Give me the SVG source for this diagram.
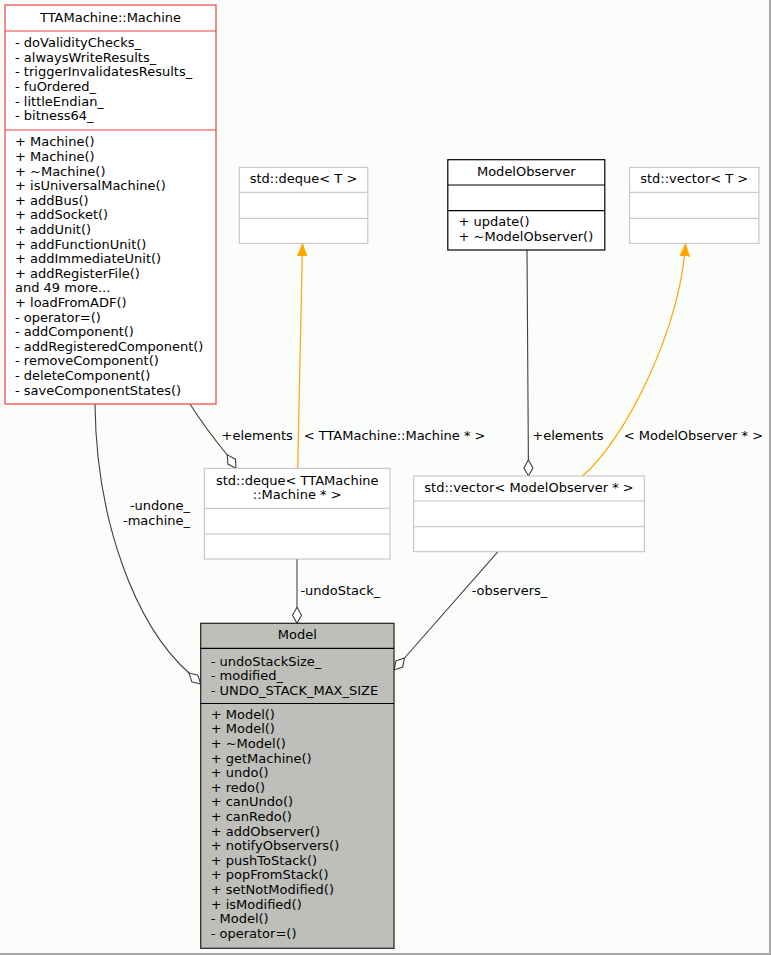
<svg xmlns="http://www.w3.org/2000/svg" width="771" height="955" viewBox="0 0 771 955">
<style>
text{font-family:"DejaVu Sans","Noto Sans",sans-serif;font-size:13px;fill:#000}
.c{text-anchor:middle}
.e{text-anchor:end}
.box{fill:#ffffff;stroke:#bfbfbf;stroke-width:1}
.red{fill:#ffffff;stroke:#f03c3c;stroke-width:1.2}
.blk{fill:#ffffff;stroke:#000000;stroke-width:1.2}
.mdl{fill:#bebfbb;stroke:#202020;stroke-width:1.2}
.dg{stroke:#bfbfbf;stroke-width:1}
.dr{stroke:#f03c3c;stroke-width:1.2}
.dk{stroke:#000000;stroke-width:1.2}
.edge{fill:none;stroke:#404040;stroke-width:1.1}
.inh{fill:none;stroke:#ffa500;stroke-width:1.2}
</style>
<defs>
<marker id="dia" markerUnits="userSpaceOnUse" viewBox="-1 -1 18 12" refX="16" refY="5" markerWidth="18" markerHeight="12" orient="auto">
<path d="M0,5 L8,0.5 L16,5 L8,9.5 Z" fill="#ffffff" stroke="#404040" stroke-width="1.1"/>
</marker>
<marker id="arr" markerUnits="userSpaceOnUse" viewBox="0 0 13 10" refX="13" refY="5" markerWidth="13" markerHeight="10" orient="auto">
<path d="M0,0 L13,5 L0,10 Z" fill="#ffa500" stroke="#ffa500" stroke-width="0.5"/>
</marker>
</defs>
<rect x="0" y="0" width="771" height="955" fill="#fbfdfb"/>
<line x1="770" y1="0" x2="770" y2="955" stroke="#a8a8a8" stroke-width="2"/>
<line x1="0" y1="954" x2="771" y2="954" stroke="#a8a8a8" stroke-width="2"/>

<g id="edges">
<path class="edge" d="M95,404 C96,520 135,625 189,673 L200.7,684" marker-end="url(#dia)"/>
<path class="edge" d="M190,404 C200,420 215,440 228,456 L236,468.3" marker-end="url(#dia)"/>
<path class="inh" d="M297.7,468.3 L302.5,243.3" marker-end="url(#arr)"/>
<path class="edge" d="M527,250 L528.5,476" marker-end="url(#dia)"/>
<path class="inh" d="M582.5,476 C625,440 680,330 685.5,243.3" marker-end="url(#arr)"/>
<path class="edge" d="M297,559 L297,623.3" marker-end="url(#dia)"/>
<path class="edge" d="M498,551.7 L394,670" marker-end="url(#dia)"/>
<text x="221.5" y="439.5">+elements</text>
<text x="303.7" y="439.5">&lt; TTAMachine::Machine * &gt;</text>
<text x="532.3" y="439.5">+elements</text>
<text x="623.7" y="439.5">&lt; ModelObserver * &gt;</text>
<text class="e" x="190" y="510.2">-undone_</text>
<text class="e" x="190" y="525.2">-machine_</text>
<text x="300.4" y="594.5">-undoStack_</text>
<text x="471.7" y="594.5">-observers_</text>
</g>

<g id="machine">
<rect class="red" x="5" y="5" width="211" height="399"/>
<line class="dr" x1="5" y1="31" x2="216" y2="31"/>
<line class="dr" x1="5" y1="130" x2="216" y2="130"/>
<text class="c" x="110.5" y="21.5">TTAMachine::Machine</text>
<text x="15" y="47.2">- doValidityChecks_</text>
<text x="15" y="61.8">- alwaysWriteResults_</text>
<text x="15" y="76.4">- triggerInvalidatesResults_</text>
<text x="15" y="91">- fuOrdered_</text>
<text x="15" y="105.6">- littleEndian_</text>
<text x="15" y="120.2">- bitness64_</text>
<text x="15" y="146.4">+ Machine()</text>
<text x="15" y="161">+ Machine()</text>
<text x="15" y="175.6">+ ~Machine()</text>
<text x="15" y="190.2">+ isUniversalMachine()</text>
<text x="15" y="204.8">+ addBus()</text>
<text x="15" y="219.4">+ addSocket()</text>
<text x="15" y="234">+ addUnit()</text>
<text x="15" y="248.6">+ addFunctionUnit()</text>
<text x="15" y="263.2">+ addImmediateUnit()</text>
<text x="15" y="277.8">+ addRegisterFile()</text>
<text x="15" y="292.4">and 49 more...</text>
<text x="15" y="307">+ loadFromADF()</text>
<text x="15" y="321.6">- operator=()</text>
<text x="15" y="336.2">- addComponent()</text>
<text x="15" y="350.8">- addRegisteredComponent()</text>
<text x="15" y="365.4">- removeComponent()</text>
<text x="15" y="380">- deleteComponent()</text>
<text x="15" y="394.6">- saveComponentStates()</text>
</g>

<g id="deque_t">
<rect class="box" x="239.3" y="167.3" width="128.5" height="76"/>
<line class="dg" x1="239.3" y1="192.3" x2="367.8" y2="192.3"/>
<line class="dg" x1="239.3" y1="218.3" x2="367.8" y2="218.3"/>
<text class="c" x="303.5" y="183">std::deque&lt; T &gt;</text>
</g>

<g id="modelobserver">
<rect class="blk" x="447.8" y="159.7" width="157" height="90.3"/>
<line class="dk" x1="447.8" y1="185" x2="604.8" y2="185"/>
<line class="dk" x1="447.8" y1="210.7" x2="604.8" y2="210.7"/>
<text class="c" x="526.3" y="176.2">ModelObserver</text>
<text x="458.5" y="226.2">+ update()</text>
<text x="458.5" y="240.8">+ ~ModelObserver()</text>
</g>

<g id="vector_t">
<rect class="box" x="629.6" y="167.3" width="129.3" height="76"/>
<line class="dg" x1="629.6" y1="192.3" x2="758.9" y2="192.3"/>
<line class="dg" x1="629.6" y1="218.3" x2="758.9" y2="218.3"/>
<text class="c" x="694.2" y="183">std::vector&lt; T &gt;</text>
</g>

<g id="deque_machine">
<rect class="box" x="204.3" y="468.3" width="185.7" height="90.7"/>
<line class="dg" x1="204.3" y1="508.3" x2="390" y2="508.3"/>
<line class="dg" x1="204.3" y1="534" x2="390" y2="534"/>
<text class="c" x="297.2" y="485.2">std::deque&lt; TTAMachine</text>
<text class="c" x="297.2" y="499.2">::Machine * &gt;</text>
</g>

<g id="vector_observer">
<rect class="box" x="413.7" y="476" width="230.6" height="75.7"/>
<line class="dg" x1="413.7" y1="501" x2="644.3" y2="501"/>
<line class="dg" x1="413.7" y1="526.7" x2="644.3" y2="526.7"/>
<text class="c" x="529" y="492.2">std::vector&lt; ModelObserver * &gt;</text>
</g>

<g id="model">
<rect class="mdl" x="200.7" y="623.3" width="193.3" height="325"/>
<line class="dk" x1="200.7" y1="648.3" x2="394" y2="648.3"/>
<line class="dk" x1="200.7" y1="703.5" x2="394" y2="703.5"/>
<text class="c" x="297.3" y="638.8">Model</text>
<text x="210.7" y="665.5">- undoStackSize_</text>
<text x="210.7" y="680.1">- modified_</text>
<text x="210.7" y="694.7">- UNDO_STACK_MAX_SIZE</text>
<text x="210.7" y="718.8">+ Model()</text>
<text x="210.7" y="733.4">+ Model()</text>
<text x="210.7" y="748">+ ~Model()</text>
<text x="210.7" y="762.6">+ getMachine()</text>
<text x="210.7" y="777.2">+ undo()</text>
<text x="210.7" y="791.8">+ redo()</text>
<text x="210.7" y="806.4">+ canUndo()</text>
<text x="210.7" y="821">+ canRedo()</text>
<text x="210.7" y="835.6">+ addObserver()</text>
<text x="210.7" y="850.2">+ notifyObservers()</text>
<text x="210.7" y="864.8">+ pushToStack()</text>
<text x="210.7" y="879.4">+ popFromStack()</text>
<text x="210.7" y="894">+ setNotModified()</text>
<text x="210.7" y="908.6">+ isModified()</text>
<text x="210.7" y="923.2">- Model()</text>
<text x="210.7" y="937.8">- operator=()</text>
</g>
</svg>
